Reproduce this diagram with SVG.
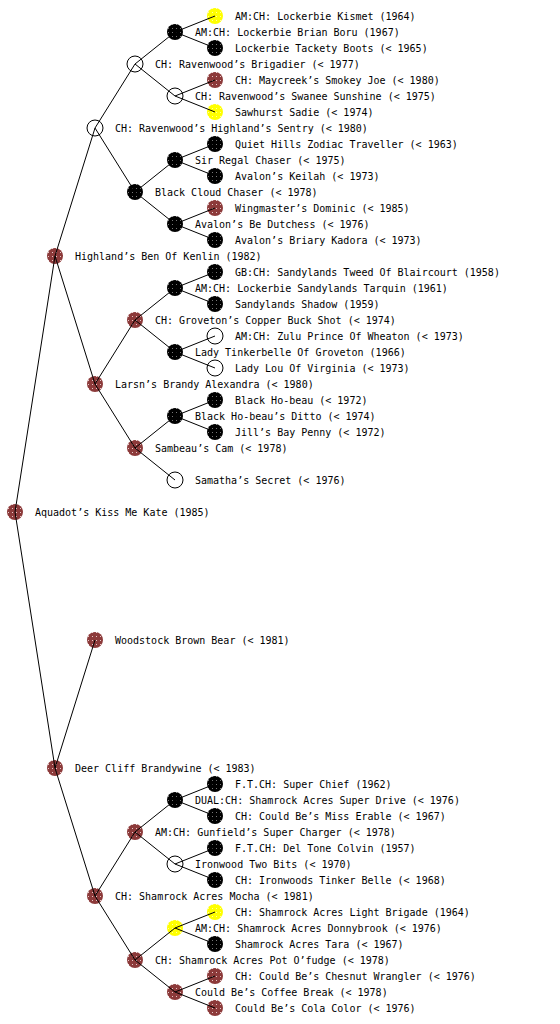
<svg xmlns="http://www.w3.org/2000/svg" width="560" height="1024" viewBox="0 0 560 1024">
<defs>
<pattern id="pB" patternUnits="userSpaceOnUse" x="-1" y="-1" width="4" height="4"><rect width="4" height="4" fill="#8c3a3a"/><rect x="1" y="1" width="1" height="1" fill="#e8c8c8"/></pattern>
<pattern id="pK" patternUnits="userSpaceOnUse" x="-1" y="-1" width="4" height="4"><rect width="4" height="4" fill="#000"/><rect x="1" y="1" width="1" height="1" fill="#777"/></pattern>
<pattern id="pY" patternUnits="userSpaceOnUse" x="-1" y="-1" width="4" height="4"><rect width="4" height="4" fill="#ffff00"/><rect x="1" y="1" width="1" height="1" fill="#ffffa0"/></pattern>
</defs>
<style>
text{font-family:"DejaVu Sans Mono","Liberation Mono",monospace;font-size:10px;fill:#000}
.n{r:8}
circle.b{fill:url(#pB)}
circle.k{fill:url(#pK)}
circle.y{fill:url(#pY)}
circle.o{fill:none;stroke:#000;stroke-width:1}
#edges line{stroke:#000;stroke-width:1}
</style>
<rect width="560" height="1024" fill="#fff"/>
<g id="nodes">
<g id="n1"><circle class="b" cx="15" cy="512" r="8"/><text x="35" y="516">Aquadot’s Kiss Me Kate (1985)</text></g>
<g id="n2"><circle class="b" cx="55" cy="256" r="8"/><text x="75" y="260">Highland’s Ben Of Kenlin (1982)</text></g>
<g id="n3"><circle class="o" cx="95" cy="128" r="8"/><text x="115" y="132">CH: Ravenwood’s Highland’s Sentry (&lt; 1980)</text></g>
<g id="n4"><circle class="o" cx="135" cy="64" r="8"/><text x="155" y="68">CH: Ravenwood’s Brigadier (&lt; 1977)</text></g>
<g id="n5"><circle class="k" cx="175" cy="32" r="8"/><text x="195" y="36">AM:CH: Lockerbie Brian Boru (1967)</text></g>
<g id="n6"><circle class="y" cx="215" cy="16" r="8"/><text x="235" y="20">AM:CH: Lockerbie Kismet (1964)</text></g>
<g id="n7"><circle class="k" cx="215" cy="48" r="8"/><text x="235" y="52">Lockerbie Tackety Boots (&lt; 1965)</text></g>
<g id="n8"><circle class="o" cx="175" cy="96" r="8"/><text x="195" y="100">CH: Ravenwood’s Swanee Sunshine (&lt; 1975)</text></g>
<g id="n9"><circle class="b" cx="215" cy="80" r="8"/><text x="235" y="84">CH: Maycreek’s Smokey Joe (&lt; 1980)</text></g>
<g id="n10"><circle class="y" cx="215" cy="112" r="8"/><text x="235" y="116">Sawhurst Sadie (&lt; 1974)</text></g>
<g id="n11"><circle class="k" cx="135" cy="192" r="8"/><text x="155" y="196">Black Cloud Chaser (&lt; 1978)</text></g>
<g id="n12"><circle class="k" cx="175" cy="160" r="8"/><text x="195" y="164">Sir Regal Chaser (&lt; 1975)</text></g>
<g id="n13"><circle class="k" cx="215" cy="144" r="8"/><text x="235" y="148">Quiet Hills Zodiac Traveller (&lt; 1963)</text></g>
<g id="n14"><circle class="k" cx="215" cy="176" r="8"/><text x="235" y="180">Avalon’s Keilah (&lt; 1973)</text></g>
<g id="n15"><circle class="k" cx="175" cy="224" r="8"/><text x="195" y="228">Avalon’s Be Dutchess (&lt; 1976)</text></g>
<g id="n16"><circle class="b" cx="215" cy="208" r="8"/><text x="235" y="212">Wingmaster’s Dominic (&lt; 1985)</text></g>
<g id="n17"><circle class="k" cx="215" cy="240" r="8"/><text x="235" y="244">Avalon’s Briary Kadora (&lt; 1973)</text></g>
<g id="n18"><circle class="b" cx="95" cy="384" r="8"/><text x="115" y="388">Larsn’s Brandy Alexandra (&lt; 1980)</text></g>
<g id="n19"><circle class="b" cx="135" cy="320" r="8"/><text x="155" y="324">CH: Groveton’s Copper Buck Shot (&lt; 1974)</text></g>
<g id="n20"><circle class="k" cx="175" cy="288" r="8"/><text x="195" y="292">AM:CH: Lockerbie Sandylands Tarquin (1961)</text></g>
<g id="n21"><circle class="k" cx="215" cy="272" r="8"/><text x="235" y="276">GB:CH: Sandylands Tweed Of Blaircourt (1958)</text></g>
<g id="n22"><circle class="k" cx="215" cy="304" r="8"/><text x="235" y="308">Sandylands Shadow (1959)</text></g>
<g id="n23"><circle class="k" cx="175" cy="352" r="8"/><text x="195" y="356">Lady Tinkerbelle Of Groveton (1966)</text></g>
<g id="n24"><circle class="o" cx="215" cy="336" r="8"/><text x="235" y="340">AM:CH: Zulu Prince Of Wheaton (&lt; 1973)</text></g>
<g id="n25"><circle class="o" cx="215" cy="368" r="8"/><text x="235" y="372">Lady Lou Of Virginia (&lt; 1973)</text></g>
<g id="n26"><circle class="b" cx="135" cy="448" r="8"/><text x="155" y="452">Sambeau’s Cam (&lt; 1978)</text></g>
<g id="n27"><circle class="k" cx="175" cy="416" r="8"/><text x="195" y="420">Black Ho-beau’s Ditto (&lt; 1974)</text></g>
<g id="n28"><circle class="k" cx="215" cy="400" r="8"/><text x="235" y="404">Black Ho-beau (&lt; 1972)</text></g>
<g id="n29"><circle class="k" cx="215" cy="432" r="8"/><text x="235" y="436">Jill’s Bay Penny (&lt; 1972)</text></g>
<g id="n30"><circle class="o" cx="175" cy="480" r="8"/><text x="195" y="484">Samatha’s Secret (&lt; 1976)</text></g>
<g id="n31"><circle class="b" cx="55" cy="768" r="8"/><text x="75" y="772">Deer Cliff Brandywine (&lt; 1983)</text></g>
<g id="n32"><circle class="b" cx="95" cy="640" r="8"/><text x="115" y="644">Woodstock Brown Bear (&lt; 1981)</text></g>
<g id="n33"><circle class="b" cx="95" cy="896" r="8"/><text x="115" y="900">CH: Shamrock Acres Mocha (&lt; 1981)</text></g>
<g id="n34"><circle class="b" cx="135" cy="832" r="8"/><text x="155" y="836">AM:CH: Gunfield’s Super Charger (&lt; 1978)</text></g>
<g id="n35"><circle class="k" cx="175" cy="800" r="8"/><text x="195" y="804">DUAL:CH: Shamrock Acres Super Drive (&lt; 1976)</text></g>
<g id="n36"><circle class="k" cx="215" cy="784" r="8"/><text x="235" y="788">F.T.CH: Super Chief (1962)</text></g>
<g id="n37"><circle class="k" cx="215" cy="816" r="8"/><text x="235" y="820">CH: Could Be’s Miss Erable (&lt; 1967)</text></g>
<g id="n38"><circle class="o" cx="175" cy="864" r="8"/><text x="195" y="868">Ironwood Two Bits (&lt; 1970)</text></g>
<g id="n39"><circle class="k" cx="215" cy="848" r="8"/><text x="235" y="852">F.T.CH: Del Tone Colvin (1957)</text></g>
<g id="n40"><circle class="k" cx="215" cy="880" r="8"/><text x="235" y="884">CH: Ironwoods Tinker Belle (&lt; 1968)</text></g>
<g id="n41"><circle class="b" cx="135" cy="960" r="8"/><text x="155" y="964">CH: Shamrock Acres Pot O’fudge (&lt; 1978)</text></g>
<g id="n42"><circle class="y" cx="175" cy="928" r="8"/><text x="195" y="932">AM:CH: Shamrock Acres Donnybrook (&lt; 1976)</text></g>
<g id="n43"><circle class="y" cx="215" cy="912" r="8"/><text x="235" y="916">CH: Shamrock Acres Light Brigade (1964)</text></g>
<g id="n44"><circle class="k" cx="215" cy="944" r="8"/><text x="235" y="948">Shamrock Acres Tara (&lt; 1967)</text></g>
<g id="n45"><circle class="b" cx="175" cy="992" r="8"/><text x="195" y="996">Could Be’s Coffee Break (&lt; 1978)</text></g>
<g id="n46"><circle class="b" cx="215" cy="976" r="8"/><text x="235" y="980">CH: Could Be’s Chesnut Wrangler (&lt; 1976)</text></g>
<g id="n47"><circle class="b" cx="215" cy="1008" r="8"/><text x="235" y="1012">Could Be’s Cola Color (&lt; 1976)</text></g>
</g>
<g id="edges">
<line x1="15" y1="512" x2="55" y2="256"/>
<line x1="15" y1="512" x2="55" y2="768"/>
<line x1="55" y1="256" x2="95" y2="128"/>
<line x1="55" y1="256" x2="95" y2="384"/>
<line x1="95" y1="128" x2="135" y2="64"/>
<line x1="95" y1="128" x2="135" y2="192"/>
<line x1="135" y1="64" x2="175" y2="32"/>
<line x1="135" y1="64" x2="175" y2="96"/>
<line x1="175" y1="32" x2="215" y2="16"/>
<line x1="175" y1="32" x2="215" y2="48"/>
<line x1="175" y1="96" x2="215" y2="80"/>
<line x1="175" y1="96" x2="215" y2="112"/>
<line x1="135" y1="192" x2="175" y2="160"/>
<line x1="135" y1="192" x2="175" y2="224"/>
<line x1="175" y1="160" x2="215" y2="144"/>
<line x1="175" y1="160" x2="215" y2="176"/>
<line x1="175" y1="224" x2="215" y2="208"/>
<line x1="175" y1="224" x2="215" y2="240"/>
<line x1="95" y1="384" x2="135" y2="320"/>
<line x1="95" y1="384" x2="135" y2="448"/>
<line x1="135" y1="320" x2="175" y2="288"/>
<line x1="135" y1="320" x2="175" y2="352"/>
<line x1="175" y1="288" x2="215" y2="272"/>
<line x1="175" y1="288" x2="215" y2="304"/>
<line x1="175" y1="352" x2="215" y2="336"/>
<line x1="175" y1="352" x2="215" y2="368"/>
<line x1="135" y1="448" x2="175" y2="416"/>
<line x1="135" y1="448" x2="175" y2="480"/>
<line x1="175" y1="416" x2="215" y2="400"/>
<line x1="175" y1="416" x2="215" y2="432"/>
<line x1="55" y1="768" x2="95" y2="640"/>
<line x1="55" y1="768" x2="95" y2="896"/>
<line x1="95" y1="896" x2="135" y2="832"/>
<line x1="95" y1="896" x2="135" y2="960"/>
<line x1="135" y1="832" x2="175" y2="800"/>
<line x1="135" y1="832" x2="175" y2="864"/>
<line x1="175" y1="800" x2="215" y2="784"/>
<line x1="175" y1="800" x2="215" y2="816"/>
<line x1="175" y1="864" x2="215" y2="848"/>
<line x1="175" y1="864" x2="215" y2="880"/>
<line x1="135" y1="960" x2="175" y2="928"/>
<line x1="135" y1="960" x2="175" y2="992"/>
<line x1="175" y1="928" x2="215" y2="912"/>
<line x1="175" y1="928" x2="215" y2="944"/>
<line x1="175" y1="992" x2="215" y2="976"/>
<line x1="175" y1="992" x2="215" y2="1008"/>
</g>
</svg>
